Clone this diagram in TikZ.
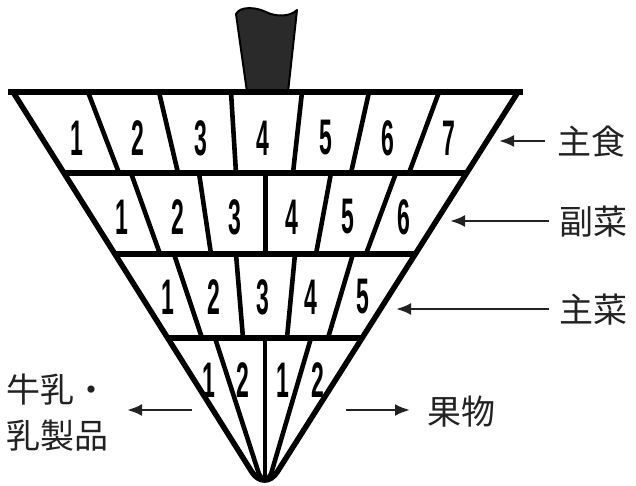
\documentclass[tikz,border=0pt]{standalone}
\usepackage{graphicx}
\usepackage{fontspec}
\setmainfont{Liberation Sans}
\newfontfamily\cjk{Noto Sans CJK JP}
\newfontfamily\digitfont{Liberation Sans}
\usetikzlibrary{arrows.meta}
\definecolor{handlegray}{HTML}{2A2A2A}
\definecolor{labelgray}{HTML}{222222}
\newcommand\dg[1]{\scalebox{0.46}[1]{#1}}
\tikzset{
  outer/.style={line width=5.5pt, line join=round},
  bar/.style={line width=5.5pt},
  divider/.style={line width=4.6pt},
  dig/.style={font=\digitfont\bfseries\fontsize{50}{50}\selectfont, inner sep=0pt},
  lab/.style={font=\cjk\fontsize{34}{46}\selectfont, text=labelgray, inner sep=0pt},
  arr/.style={line width=2.6pt, draw=labelgray, -{Latex[length=15pt,width=12pt]}}
}
\begin{document}
\begin{tikzpicture}[x=1pt,y=-1pt]
\useasboundingbox (0,0) rectangle (636,486);
% handle
\draw[fill=handlegray, line width=2pt, line join=round]
  (247,92) -- (236,14) .. controls (240,6) and (256,7) .. (266,12)
  .. controls (276,17) and (290,17) .. (297,10) -- (288,92) -- cycle;
% outer V
\draw[outer, rounded corners=24pt] (13,92) -- (264.5,492) -- (518,92);
% bars
\draw[bar] (8,92) -- (523,92);
\draw[bar] (63,173) -- (468,173);
\draw[bar] (115,254) -- (416,254);
\draw[bar] (169,338) -- (361,338);
% row 1 dividers
\draw[divider] (88,92) -- (119,173);
\draw[divider] (159,92) -- (178,173);
\draw[divider] (231,92) -- (236,173);
\draw[divider] (302,92) -- (293,173);
\draw[divider] (369,92) -- (351,173);
\draw[divider] (439,92) -- (409,173);
% row 2 dividers
\draw[divider] (131,173) -- (160,254);
\draw[divider] (199,173) -- (211,254);
\draw[divider] (265.5,173) -- (265.5,254);
\draw[divider] (331,173) -- (316,254);
\draw[divider] (396,173) -- (366,254);
% row 3 dividers
\draw[divider] (174,254) -- (202,338);
\draw[divider] (236,254) -- (243,338);
\draw[divider] (295,254) -- (287,338);
\draw[divider] (353,254) -- (328,338);
% row 4 dividers
\draw[divider, line cap=round] (215,338) -- (259,474) -- (263,480);
\draw[divider] (265,338) -- (265,481);
\draw[divider, line cap=round] (311,338) -- (271,474) -- (267,480);
% digits row 1
\node[dig] (a1) at (77,138) {\dg{1}};
\node[dig] (a2) at (138,138) {\dg{2}};
\node[dig] (a3) at (201,138) {\dg{3}};
\node[dig] (a4) at (263,138) {\dg{4}};
\node[dig] (a5) at (326,138) {\dg{5}};
\node[dig] (a6) at (388,138) {\dg{6}};
\node[dig] (a7) at (449,138) {\dg{7}};
% digits row 2
\node[dig] (b1) at (122,217) {\dg{1}};
\node[dig] (b2) at (178,217) {\dg{2}};
\node[dig] (b3) at (235,217) {\dg{3}};
\node[dig] (b4) at (292,217) {\dg{4}};
\node[dig] (b5) at (348,217) {\dg{5}};
\node[dig] (b6) at (404,217) {\dg{6}};
% digits row 3
\node[dig] (c1) at (168,297) {\dg{1}};
\node[dig] (c2) at (214,297) {\dg{2}};
\node[dig] (c3) at (263,297) {\dg{3}};
\node[dig] (c4) at (311,297) {\dg{4}};
\node[dig] (c5) at (363,297) {\dg{5}};
% digits row 4
\node[dig] (d1) at (209,380) {\dg{1}};
\node[dig] (d2) at (243,380) {\dg{2}};
\node[dig] (d3) at (283,380) {\dg{1}};
\node[dig] (d4) at (318,380) {\dg{2}};
% labels
\node[lab, anchor=west] (shushoku) at (557,142) {主食};
\node[lab, anchor=west] (fukusai) at (559,222) {副菜};
\node[lab, anchor=west] (shusai) at (559,310) {主菜};
\node[lab, anchor=west, align=left] (milk) at (6,413) {牛乳・\\乳製品};
\node[lab, anchor=west] (fruit) at (427,412) {果物};
% arrows
\coordinate (t1) at (545,141); \coordinate (h1) at (499,141);
\coordinate (t2) at (549,221); \coordinate (h2) at (450,221);
\coordinate (t3) at (549,309); \coordinate (h3) at (396,309);
\coordinate (t4) at (192,410); \coordinate (h4) at (127,410);
\coordinate (t5) at (346,410); \coordinate (h5) at (410,410);
\draw[arr] (t1) -- (h1);
\draw[arr] (t2) -- (h2);
\draw[arr] (t3) -- (h3);
\draw[arr] (t4) -- (h4);
\draw[arr] (t5) -- (h5);
\end{tikzpicture}
\end{document}
